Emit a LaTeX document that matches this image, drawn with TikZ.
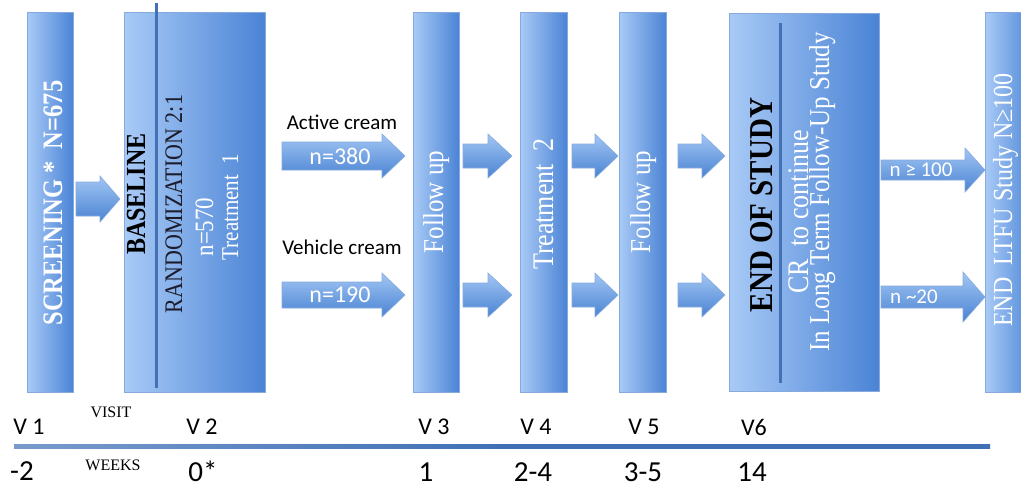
\documentclass[tikz,border=0pt]{standalone}
\usepackage{fontspec}
\setmainfont{Liberation Serif}
\newfontfamily\sansf{Carlito}
\definecolor{boxlight}{HTML}{A8CAF6}
\definecolor{boxdark}{HTML}{4A83D5}
\definecolor{boxborder}{HTML}{86AADD}
\definecolor{arrlight}{HTML}{A2C6F4}
\definecolor{arrdark}{HTML}{4A83D2}
\definecolor{innerline}{HTML}{4371B3}
\definecolor{axisblue}{HTML}{3F70B6}
\definecolor{darktext}{HTML}{1C1C2C}
\newcommand\fs[1]{\fontsize{#1}{#1}\selectfont}
\newcommand\tall[1]{\scalebox{1}[1.15]{#1}}
\newcommand\blockarrow[6]{% x-start, head-start, tip, y-centre, shaft half, head half
  \path[arrowshape] (#1,#4-#5) -- (#2,#4-#5) -- (#2,#4-#6) -- (#3,#4)
    -- (#2,#4+#6) -- (#2,#4+#5) -- (#1,#4+#5) -- cycle;}
\begin{document}
\begin{tikzpicture}[x=1pt,y=-1pt,
  box/.style={draw=boxborder, line width=0.8pt, left color=boxlight,
    right color=boxdark, inner sep=0, anchor=north west},
  arrowshape/.style={draw=boxborder, line width=0.6pt, top color=arrlight,
    bottom color=arrdark},
  rot/.style={rotate=90, anchor=base, inner sep=0},
  wtext/.style={text=white},
  arrlabel/.style={text=white, font=\sansf\fs{24}, inner sep=0},
  cream/.style={text=black, font=\sansf\fs{21}, inner sep=0},
  visitlbl/.style={font=\sansf\fs{24}, inner sep=0},
  weeklbl/.style={font=\sansf\fs{29}, inner sep=0},
  smallcap/.style={font=\fs{16}, inner sep=0},
  divider/.style={innerline, line width=3pt}
]
\useasboundingbox (0,0) rectangle (1021,491);

% ---- boxes
\node[box, minimum width=46pt, minimum height=380pt] (scr) at (27,12) {};
\node[box, minimum width=141pt, minimum height=380pt] (base) at (124,12) {};
\node[box, minimum width=46pt, minimum height=380pt] (fu1) at (413,12) {};
\node[box, minimum width=47pt, minimum height=380pt] (tr2) at (520,12) {};
\node[box, minimum width=47pt, minimum height=380pt] (fu2) at (619,12) {};
\node[box, minimum width=150pt, minimum height=378pt] (eos) at (729,13) {};
\begin{scope}
\clip (0,0) rectangle (1021,491);
\node[box, minimum width=50pt, minimum height=380pt] (ltfu) at (985,12) {};
\end{scope}

% ---- dividers inside the wide boxes
\coordinate (bdivT) at (156,3);
\coordinate (bdivB) at (156,388);
\draw[divider] (bdivT) -- (bdivB);
\coordinate (edivT) at (780,23);
\coordinate (edivB) at (780,383);
\draw[divider] (edivT) -- (edivB);

% ---- box texts
\node[rot, wtext, font=\bfseries\fs{24.5}] (tscr) at (62,203) {\tall{SCREENING *\ \ N=675}};
\node[rot, font=\bfseries\fs{24}] (tbase) at (145,194) {\tall{BASELINE}};
\node[rot, text=darktext, font=\fs{22}] (trand) at (182,204) {\tall{RANDOMIZATION 2:1}};
\node[rot, wtext, font=\fs{23}] (tn570) at (213,227) {\tall{n=570}};
\node[rot, wtext, font=\fs{21}] (ttr1) at (238,207) {\tall{Treatment\ \ 1}};
\node[rot, wtext, font=\fs{25}] (tfu1) at (443,202) {\tall{Follow up}};
\node[rot, wtext, font=\fs{26}] (ttr2) at (553,204) {\tall{Treatment\ \ 2}};
\node[rot, wtext, font=\fs{25}] (tfu2) at (650,202) {\tall{Follow up}};
\node[rot, font=\bfseries\fs{29}] (teos) at (772,205) {\tall{END OF STUDY}};
\node[rot, wtext, font=\fs{26}] (tcr) at (808,212) {\tall{CR\ \ to continue}};
\node[rot, wtext, font=\fs{25}] (tltf) at (829,192) {\tall{In Long Term Follow-Up Study}};
\node[rot, wtext, font=\fs{24}] (tltfu) at (1012,200) {\tall{END\ \ LTFU Study N≥100}};

% ---- block arrows
\blockarrow{76}{100}{120}{199}{17}{23}
\blockarrow{282}{382}{405}{156}{14}{22}
\blockarrow{282}{382}{405}{295}{13}{22}
\blockarrow{463}{488}{512}{156}{12}{22}
\blockarrow{463}{488}{512}{295}{12}{22}
\blockarrow{572}{595}{618}{156}{12}{22}
\blockarrow{572}{595}{618}{295}{12}{22}
\blockarrow{678}{702}{725}{156}{12}{22}
\blockarrow{678}{702}{725}{295}{12}{22}
\blockarrow{881}{965}{985}{170}{10}{22}
\blockarrow{881}{963}{985}{297}{11}{25}

% ---- arrow labels
\node[arrlabel] (a380) at (340,156) {n=380};
\node[arrlabel] (a190) at (340,295) {n=190};
\node[cream] (lact) at (342,122) {Active cream};
\node[cream] (lveh) at (342,247) {Vehicle cream};
\node[arrlabel, font=\sansf\fs{21}] (a100) at (921,170) {n ≥ 100};
\node[arrlabel, font=\sansf\fs{21}] (a20) at (914,297) {n \textasciitilde20};

% ---- time axis
\shade[left color=axisblue!70, right color=axisblue, middle color=axisblue]
  (14,444.5) rectangle (990,448.5);
\node[visitlbl] (v1) at (29,427) {V 1};
\node[smallcap] (visit) at (111,412) {VISIT};
\node[visitlbl] (v2) at (202,427) {V 2};
\node[visitlbl] (v3) at (434,427) {V 3};
\node[visitlbl] (v4) at (536,427) {V 4};
\node[visitlbl] (v5) at (644,427) {V 5};
\node[visitlbl] (v6) at (754,427) {V6};
\node[weeklbl] (w1) at (22,471) {-2};
\node[smallcap] (weeks) at (113,465) {WEEKS};
\node[weeklbl] (w2) at (203,471) {0*};
\node[weeklbl] (w3) at (426,472) {1};
\node[weeklbl] (w4) at (533,472) {2-4};
\node[weeklbl] (w5) at (643,472) {3-5};
\node[weeklbl] (w6) at (752,472) {14};
\end{tikzpicture}
\end{document}
